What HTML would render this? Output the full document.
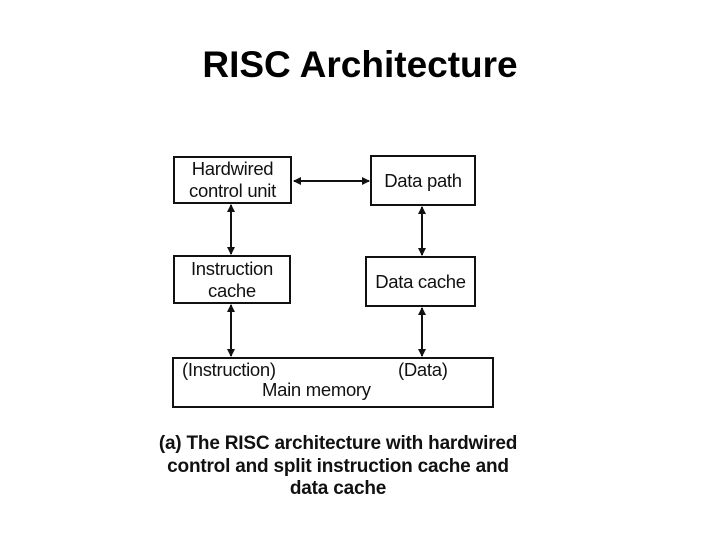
<!DOCTYPE html>
<html><head><style>
body{margin:0;width:720px;height:540px;background:#fff;position:relative;overflow:hidden;font-family:"Liberation Sans",Arial,sans-serif}
.t{position:absolute;left:0;width:720px;top:44px;text-align:center;font-size:37px;font-weight:bold;color:#000}
.b{position:absolute;border:2.5px solid #111;box-sizing:border-box;display:flex;align-items:center;justify-content:center;text-align:center;font-size:18.5px;line-height:22px;color:#111;letter-spacing:-0.3px}
.c{position:absolute;left:100px;width:476px;top:433px;text-align:center;font-size:19px;font-weight:bold;line-height:22.5px;color:#111;letter-spacing:-0.2px}
</style></head><body>
<div class="t">RISC Architecture</div>
<div class="b" style="left:173px;top:156px;width:119px;height:48px">Hardwired<br>control unit</div>
<div class="b" style="left:370px;top:155px;width:106px;height:51px">Data path</div>
<div class="b" style="left:173px;top:255px;width:118px;height:49px">Instruction<br>cache</div>
<div class="b" style="left:365px;top:256px;width:111px;height:51px">Data cache</div>
<div class="b" style="left:172px;top:357px;width:322px;height:51px;display:block">
<div style="position:absolute;left:8px;top:0px">(Instruction)</div>
<div style="position:absolute;left:224px;top:0px">(Data)</div>
<div style="position:absolute;left:88px;top:20px">Main memory</div></div>
<svg width="720" height="540" style="position:absolute;left:0;top:0">
<defs><marker id="a" markerWidth="8" markerHeight="8" refX="7" refY="4" orient="auto-start-reverse" markerUnits="userSpaceOnUse"><path d="M0,0 L8,4 L0,8z" fill="#111"/></marker></defs>
<g stroke="#111" stroke-width="2" marker-start="url(#a)" marker-end="url(#a)">
<line x1="294" y1="181" x2="369" y2="181"/>
<line x1="231" y1="205" x2="231" y2="254"/>
<line x1="231" y1="305" x2="231" y2="356"/>
<line x1="422" y1="207" x2="422" y2="255"/>
<line x1="422" y1="308" x2="422" y2="356"/>
</g></svg>
<div class="c">(a) The RISC architecture with hardwired<br>control and split instruction cache and<br>data cache</div>
</body></html>
